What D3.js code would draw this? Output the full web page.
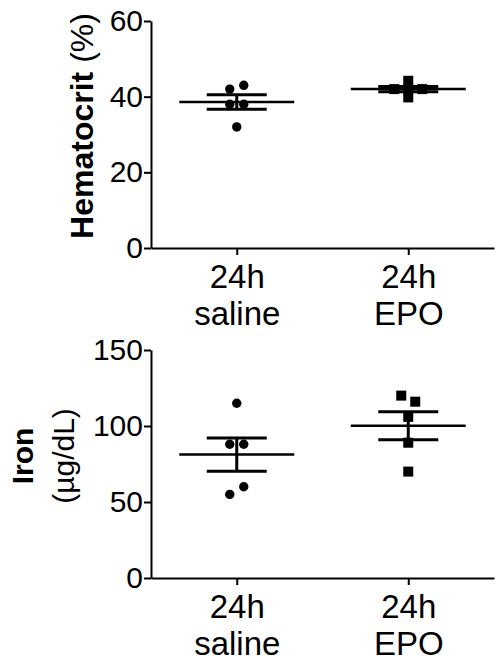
<!DOCTYPE html>
<html>
<head>
<meta charset="utf-8">
<script src="https://cdn.jsdelivr.net/npm/d3@7"></script>
<style>
  body { margin: 0; background: #fff; }
  text { font-family: "Liberation Sans", Arial, Helvetica, sans-serif; fill: #000; }
</style>
</head>
<body>
<div id="chart"></div>
<script>
// groups on the x axis
var groups = ["saline", "EPO"];
var groupLabels = [["24h", "saline"], ["24h", "EPO"]];

// individual animals
var hctSaline = [42, 43, 38, 38, 32];
var hctEpo = [44.2, 42, 42, 42, 39.8];
var ironSaline = [115, 88, 88, 55, 60];
var ironEpo = [120, 116, 106, 89, 70];

var hctTicks = [0, 20, 40, 60];
var ironTicks = [0, 50, 100, 150];

var W = 498, H = 664;
var svg = d3.select("#chart").append("svg")
  .attr("width", W)
  .attr("height", H);

var x = d3.scalePoint()
  .domain(groups)
  .range([151, 494])
  .padding(0.5);

// spread points that overlap vertically side by side (like prism does)
function spread(values, y, gap) {
  var idx = d3.range(values.length).sort(function(a, b) { return values[b] - values[a]; });
  var rows = [], cur = null;
  idx.forEach(function(i) {
    if (cur && Math.abs(y(values[i]) - y(values[cur[0]])) < 8) { cur.push(i); }
    else { cur = [i]; rows.push(cur); }
  });
  var off = new Array(values.length);
  rows.forEach(function(r) {
    r.sort(d3.ascending);
    r.forEach(function(i, k) { off[i] = (k - (r.length - 1) / 2) * gap; });
  });
  return off;
}

function panel(cfg) {
  var y = d3.scaleLinear()
    .domain([0, cfg.ticks[cfg.ticks.length - 1]])
    .range([cfg.bottom, cfg.top]);

  var g = svg.append("g");

  // y axis
  var ya = g.append("g")
    .attr("transform", "translate(151,0)")
    .call(d3.axisLeft(y).tickValues(cfg.ticks).tickSize(7).tickSizeOuter(0).tickPadding(1));
  ya.select(".domain").attr("stroke-width", 2);
  ya.selectAll(".tick line").attr("stroke-width", 2);
  ya.selectAll(".tick text").style("font-size", "30px");

  // x axis
  var xa = g.append("g")
    .attr("transform", "translate(0," + cfg.bottom + ")")
    .call(d3.axisBottom(x).tickSize(7).tickSizeOuter(0).tickFormat(""));
  xa.select(".domain").attr("stroke-width", 2);
  xa.selectAll(".tick line").attr("stroke-width", 2);
  xa.selectAll(".tick text").remove();
  xa.selectAll(".tick").each(function(d, i) {
    var t = d3.select(this).append("text")
      .attr("text-anchor", "middle")
      .style("font-size", "33px");
    t.append("tspan").attr("x", 0).attr("y", 40).text(groupLabels[i][0]);
    t.append("tspan").attr("x", 0).attr("y", 77).text(groupLabels[i][1]);
  });

  // axis title
  cfg.title(g);

  cfg.series.forEach(function(vals, si) {
    var cx = x(groups[si]);
    var off = spread(vals, y, 14);

    if (si === 0) {
      g.append("g").selectAll("circle")
        .data(vals)
        .enter()
        .append("circle")
          .attr("cx", function(d, i) { return cx + off[i]; })
          .attr("cy", function(d) { return y(d); })
          .attr("r", 4.7)
          .attr("fill", "#000");
    } else {
      g.append("g").selectAll("rect")
        .data(vals)
        .enter()
        .append("rect")
          .attr("x", function(d, i) { return cx + off[i] - 5; })
          .attr("y", function(d) { return y(d) - 5; })
          .attr("width", 10)
          .attr("height", 10)
          .attr("fill", "#000");
    }

    // mean +/- SEM
    var m = d3.mean(vals);
    var sem = d3.deviation(vals) / Math.sqrt(vals.length);
    var eb = g.append("g").attr("stroke", "#000").attr("stroke-width", 3);
    eb.append("line")
      .attr("x1", cx - 57.5).attr("x2", cx + 57.5)
      .attr("y1", y(m)).attr("y2", y(m))
      .attr("stroke-width", 2.5);
    eb.append("line")
      .attr("x1", cx).attr("x2", cx)
      .attr("y1", y(m + sem)).attr("y2", y(m - sem));
    [m + sem, m - sem].forEach(function(v) {
      eb.append("line")
        .attr("x1", cx - 30).attr("x2", cx + 30)
        .attr("y1", y(v)).attr("y2", y(v));
    });
  });
}

panel({
  top: 21, bottom: 248, ticks: hctTicks,
  series: [hctSaline, hctEpo],
  title: function(g) {
    var t = g.append("text")
      .attr("transform", "translate(93,126) rotate(-90)")
      .attr("text-anchor", "middle")
      .style("font-size", "32px");
    t.append("tspan").style("font-weight", "bold").text("Hematocrit");
    t.append("tspan").text(" (%)");
  }
});

panel({
  top: 350, bottom: 578, ticks: ironTicks,
  series: [ironSaline, ironEpo],
  title: function(g) {
    g.append("text")
      .attr("transform", "translate(33,456) rotate(-90)")
      .attr("text-anchor", "middle")
      .style("font-size", "30px")
      .style("font-weight", "bold")
      .text("Iron");
    g.append("text")
      .attr("transform", "translate(74,456) rotate(-90)")
      .attr("text-anchor", "middle")
      .style("font-size", "30px")
      .text("(\u00b5g/dL)");
  }
});
</script>
</body>
</html>
